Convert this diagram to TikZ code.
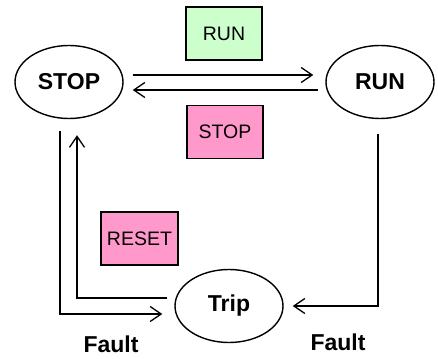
\documentclass[tikz,border=0pt]{standalone}
\usepackage{fontspec}
\setmainfont{Liberation Sans}
\usepackage{xcolor}
\usetikzlibrary{arrows.meta}
\usetikzlibrary{shapes.geometric}
\definecolor{mygreen}{RGB}{204, 255, 204}
\definecolor{mypink}{RGB}{255, 153, 204}

\tikzset{
state/.style={ellipse, draw, line width=1.4pt, minimum width=108pt, minimum height=73pt, inner sep=0pt, font=\fontsize{23}{27}\selectfont\bfseries},
cmd/.style={draw, line width=1.4pt, minimum width=76pt, minimum height=53pt, inner sep=0pt, font=\fontsize{19.5}{23}\selectfont},
lbl/.style={font=\fontsize{23}{27}\selectfont\bfseries},
arr/.style={-{Straight Barb[length=11pt,width=15pt]}, line width=1.3pt}
}

\begin{document}
\begin{tikzpicture}[x=1pt, y=-1pt]
\useasboundingbox (0,0) rectangle (438,358);
%states
\node[state] (STOP) at (69,82) {STOP};
\node[state] (RUN) at (380,82) {RUN};
\node[state] (Trip) at (229,306) {Trip};

%commands
\node[cmd, fill=mygreen] (cmdRUN) at (224,33.5) {RUN};
\node[cmd, fill=mypink] (cmdSTOP) at (225,132) {STOP};
\node[cmd, fill=mypink, minimum width=77pt] (cmdRESET) at (139.5,238.5) {RESET};

\node[lbl] (fault1) at (111,344) {Fault};
\node[lbl] (fault2) at (338,342) {Fault};

%transitions
\draw[arr] ([xshift=9pt,yshift=7pt]STOP.east) -- ([xshift=-12pt,yshift=7pt]RUN.west);
\draw[arr] ([xshift=-7pt,yshift=-8pt]RUN.west) -- ([xshift=9pt,yshift=-8pt]STOP.east);
\draw[arr] ([xshift=-9pt,yshift=-12pt]STOP.south) |- ([xshift=-12pt,yshift=-8pt]Trip.west);
\draw[arr] ([xshift=-7pt,yshift=8pt]Trip.west) -| ([xshift=8pt,yshift=-16pt]STOP.south);
\draw[arr] ([xshift=-2pt,yshift=-15pt]RUN.south) |- ([xshift=9pt]Trip.east);
\end{tikzpicture}
\end{document}
